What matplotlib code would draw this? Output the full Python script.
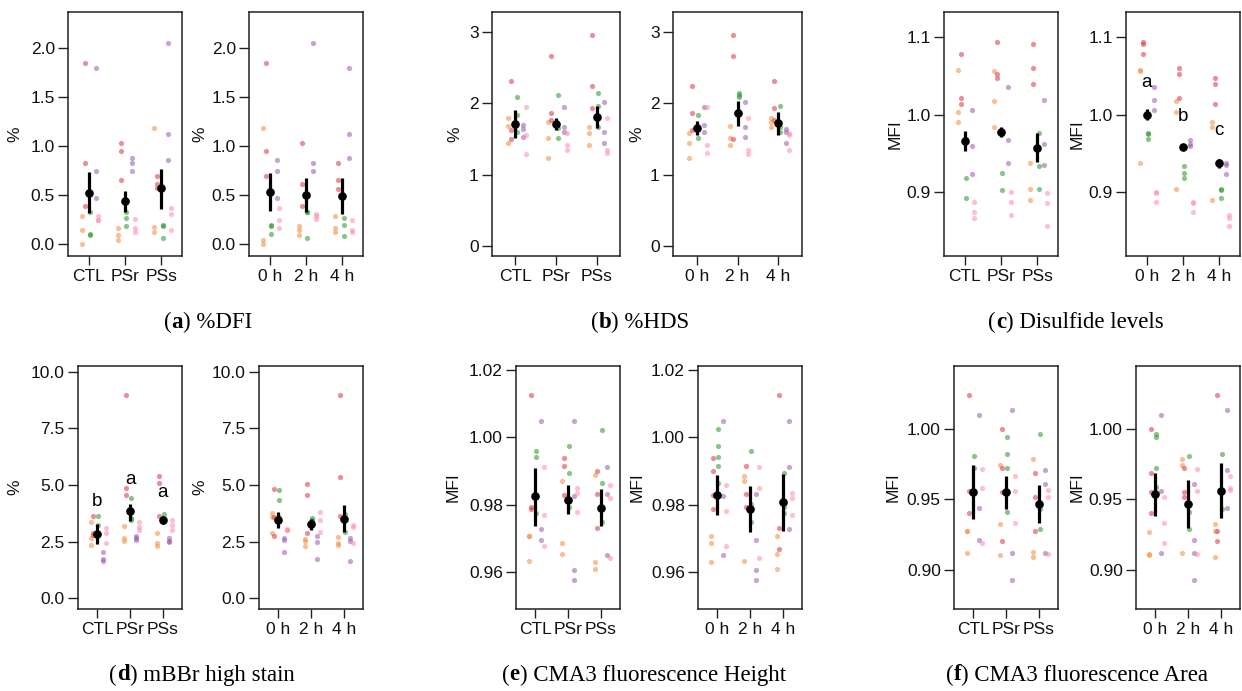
import matplotlib
matplotlib.use("Agg")
import matplotlib.pyplot as plt
from matplotlib.transforms import IdentityTransform

W, H = 1242, 691
DPI = 100

# colour per animal and its horizontal offset beside the group mean
colors = {
    "orange": (0.96, 0.55, 0.24),
    "red": (0.86, 0.20, 0.26),
    "green": (0.16, 0.59, 0.16),
    "purple": (0.59, 0.35, 0.67),
    "pink": (1.00, 0.55, 0.65),
}
offsets = {"orange": -0.19, "red": -0.115, "green": 0.04, "purple": 0.19, "pink": 0.265}

treat_labels = ["CTL", "PSr", "PSs"]
time_labels = ["0 h", "2 h", "4 h"]

# ---------------- (a) %DFI ----------------
dfi_treat = {
    "orange": [[0.29, 0.14, 0.00], [0.16, 0.09, 0.04], [1.18, 0.17, 0.12]],
    "red": [[1.85, 0.83, 0.39], [1.03, 0.95, 0.65], [0.69, 0.61, 0.57]],
    "green": [[0.33, 0.10, 0.09], [0.33, 0.27, 0.18], [0.19, 0.18, 0.06]],
    "purple": [[1.80, 0.74, 0.47], [0.88, 0.83, 0.74], [2.05, 1.12, 0.86]],
    "pink": [[0.29, 0.25, 0.25], [0.26, 0.16, 0.12], [0.37, 0.31, 0.14]],
}
dfi_treat_mean = [0.52, 0.44, 0.57]
dfi_treat_lo = [0.32, 0.33, 0.36]
dfi_treat_hi = [0.73, 0.54, 0.77]

dfi_time = {
    "orange": [[1.18, 0.04, 0.00], [0.18, 0.14, 0.09], [0.29, 0.16, 0.12]],
    "red": [[1.85, 0.95, 0.69], [1.03, 0.61, 0.39], [0.83, 0.65, 0.56]],
    "green": [[0.19, 0.18, 0.10], [0.33, 0.33, 0.06], [0.27, 0.19, 0.08]],
    "purple": [[0.86, 0.74, 0.47], [2.05, 0.83, 0.74], [1.80, 1.12, 0.88]],
    "pink": [[0.37, 0.25, 0.16], [0.31, 0.29, 0.26], [0.25, 0.14, 0.12]],
}
dfi_time_mean = [0.53, 0.50, 0.49]
dfi_time_lo = [0.34, 0.33, 0.31]
dfi_time_hi = [0.72, 0.67, 0.67]

# ---------------- (b) %HDS ----------------
hds_treat = {
    "orange": [[1.80, 1.69, 1.45], [1.74, 1.51, 1.23], [1.67, 1.59, 1.41]],
    "red": [[2.32, 1.62, 1.50], [2.67, 1.86, 1.77], [2.96, 2.25, 1.93]],
    "green": [[2.09, 1.84, 1.60], [2.12, 1.65, 1.52], [2.14, 1.96, 1.67]],
    "purple": [[1.70, 1.64, 1.53], [1.95, 1.67, 1.60], [2.02, 1.60, 1.45]],
    "pink": [[1.95, 1.55, 1.29], [1.59, 1.41, 1.35], [1.79, 1.35, 1.31]],
}
hds_treat_mean = [1.71, 1.71, 1.81]
hds_treat_lo = [1.51, 1.63, 1.66]
hds_treat_hi = [1.91, 1.79, 1.96]

hds_time = {
    "orange": [[1.59, 1.45, 1.23], [1.69, 1.51, 1.41], [1.80, 1.74, 1.67]],
    "red": [[2.25, 1.86, 1.62], [2.96, 2.67, 1.50], [2.32, 1.93, 1.77]],
    "green": [[1.84, 1.65, 1.52], [2.14, 2.12, 2.09], [1.96, 1.67, 1.60]],
    "purple": [[1.95, 1.70, 1.60], [2.02, 1.67, 1.53], [1.64, 1.60, 1.45]],
    "pink": [[1.95, 1.41, 1.31], [1.79, 1.35, 1.29], [1.59, 1.55, 1.35]],
}
hds_time_mean = [1.65, 1.86, 1.72]
hds_time_lo = [1.56, 1.68, 1.55]
hds_time_hi = [1.75, 2.04, 1.88]

# ---------------- (c) Disulfide levels ----------------
ss_treat = {
    "orange": [[1.058, 1.003, 0.990], [1.057, 1.017, 0.984], [0.937, 0.903, 0.889]],
    "red": [[1.079, 1.022, 1.014], [1.094, 1.052, 1.047], [1.091, 1.060, 1.039]],
    "green": [[0.968, 0.918, 0.892], [0.975, 0.924, 0.902], [0.976, 0.933, 0.904]],
    "purple": [[1.006, 0.959, 0.923], [1.035, 0.967, 0.937], [1.019, 0.962, 0.935]],
    "pink": [[0.887, 0.874, 0.866], [0.899, 0.887, 0.870], [0.898, 0.886, 0.855]],
}
ss_treat_mean = [0.966, 0.977, 0.957]
ss_treat_lo = [0.953, 0.971, 0.938]
ss_treat_hi = [0.979, 0.984, 0.976]

ss_time = {
    "orange": [[1.058, 1.057, 0.937], [1.017, 1.003, 0.903], [0.990, 0.984, 0.889]],
    "red": [[1.094, 1.091, 1.079], [1.060, 1.052, 1.022], [1.047, 1.039, 1.014]],
    "green": [[0.976, 0.975, 0.968], [0.933, 0.924, 0.918], [0.904, 0.902, 0.892]],
    "purple": [[1.035, 1.019, 1.006], [0.967, 0.962, 0.959], [0.937, 0.935, 0.923]],
    "pink": [[0.899, 0.898, 0.887], [0.887, 0.886, 0.874], [0.870, 0.866, 0.855]],
}
ss_time_mean = [1.000, 0.958, 0.937]
ss_time_lo = [0.993, 0.955, 0.931]
ss_time_hi = [1.007, 0.961, 0.943]
ss_time_letters = ["a", "b", "c"]
ss_time_letter_y = [1.041, 0.997, 0.979]

# ---------------- (d) mBBr high stain ----------------
mbbr_treat = {
    "orange": [[3.37, 2.65, 2.35], [3.20, 2.65, 2.55], [2.89, 2.43, 2.33]],
    "red": [[3.65, 2.89, 2.79], [8.97, 4.87, 4.58], [5.38, 5.07, 3.62]],
    "green": [[3.65, 3.25, 2.89], [4.42, 3.55, 3.45], [3.74, 3.47, 3.40]],
    "purple": [[2.06, 1.74, 1.66], [2.75, 2.65, 2.57], [2.67, 2.55, 2.50]],
    "pink": [[3.12, 2.89, 2.46], [3.39, 3.15, 3.01], [3.47, 3.23, 3.01]],
}
mbbr_treat_mean = [2.83, 3.84, 3.47]
mbbr_treat_lo = [2.40, 3.42, 3.30]
mbbr_treat_hi = [3.27, 4.17, 3.65]
mbbr_treat_letters = ["b", "a", "a"]
mbbr_treat_letter_y = [4.28, 5.24, 4.67]

mbbr_time = {
    "orange": [[3.78, 3.59, 2.89], [2.62, 2.55, 2.31], [2.70, 2.43, 2.35]],
    "red": [[4.84, 3.59, 2.75], [5.04, 4.58, 2.89], [8.97, 5.36, 3.65]],
    "green": [[4.77, 4.36, 3.59], [3.56, 3.47, 3.40], [3.70, 3.52, 2.92]],
    "purple": [[2.67, 2.57, 2.06], [2.75, 2.47, 1.74], [2.65, 2.55, 1.66]],
    "pink": [[3.08, 3.01, 3.01], [3.81, 3.44, 2.94], [3.23, 3.15, 2.43]],
}
mbbr_time_mean = [3.47, 3.26, 3.50]
mbbr_time_lo = [3.10, 3.00, 2.92]
mbbr_time_hi = [3.80, 3.50, 4.10]

# ---------------- (e) CMA3 fluorescence Height ----------------
cmah_treat = {
    "orange": [[0.9709, 0.9709, 0.9632], [0.9871, 0.9688, 0.9654], [0.9889, 0.9629, 0.9610]],
    "red": [[1.0126, 0.9793, 0.9788], [0.9938, 0.9915, 0.9828], [0.9899, 0.9832, 0.9731]],
    "green": [[0.9961, 0.9941, 0.9775], [0.9975, 0.9894, 0.9795], [1.0022, 0.9866, 0.9749]],
    "purple": [[1.0048, 0.9728, 0.9696], [1.0050, 0.9825, 0.9606, 0.9578], [0.9911, 0.9832, 0.9650]],
    "pink": [[0.9913, 0.9770, 0.9677], [0.9849, 0.9835, 0.9780], [0.9859, 0.9820, 0.9642]],
}
cmah_treat_mean = [0.9825, 0.9815, 0.9792]
cmah_treat_lo = [0.9736, 0.9772, 0.9736]
cmah_treat_hi = [0.9909, 0.9859, 0.9847]

cmah_time = {
    "orange": [[0.9709, 0.9688, 0.9629], [0.9886, 0.9871, 0.9632], [0.9709, 0.9654, 0.9610]],
    "red": [[0.9938, 0.9899, 0.9828, 0.9788], [0.9915, 0.9832, 0.9793], [1.0126, 0.9731, 0.9669]],
    "green": [[1.0024, 0.9975, 0.9941, 0.9915, 0.9866], [0.9961, 0.9803, 0.9749], [0.9894, 0.9795, 0.9775]],
    "purple": [[1.0048, 0.9825, 0.9650], [0.9832, 0.9696, 0.9606, 0.9578], [1.0050, 0.9911, 0.9728]],
    "pink": [[0.9859, 0.9782, 0.9677], [0.9913, 0.9849, 0.9642], [0.9835, 0.9820, 0.9770]],
}
cmah_time_mean = [0.9830, 0.9787, 0.9808]
cmah_time_lo = [0.9770, 0.9719, 0.9723]
cmah_time_hi = [0.9889, 0.9856, 0.9892]

# ---------------- (f) CMA3 fluorescence Area ----------------
cmaa_treat = {
    "orange": [[0.9275, 0.9275, 0.9122], [0.9743, 0.9325, 0.9105], [0.9784, 0.9124, 0.9093]],
    "red": [[1.0240, 0.9560, 0.9405], [0.9999, 0.9720, 0.9554, 0.9204], [0.9685, 0.9520, 0.9275]],
    "green": [[0.9807, 0.9720, 0.9560], [0.9944, 0.9826, 0.9720, 0.9413], [0.9963, 0.9436, 0.9290]],
    "purple": [[1.0098, 0.9443, 0.9216], [1.0134, 0.9117, 0.8928], [0.9710, 0.9610, 0.9120]],
    "pink": [[0.9713, 0.9583, 0.9193], [0.9665, 0.9560, 0.9335], [0.9566, 0.9520, 0.9110]],
}
cmaa_treat_mean = [0.9554, 0.9550, 0.9467]
cmaa_treat_lo = [0.9358, 0.9430, 0.9330]
cmaa_treat_hi = [0.9748, 0.9665, 0.9600]

cmaa_time = {
    "orange": [[0.9270, 0.9110, 0.9105], [0.9784, 0.9743, 0.9122], [0.9325, 0.9275, 0.9089]],
    "red": [[0.9999, 0.9685, 0.9554, 0.9405], [0.9720, 0.9554, 0.9520], [1.0240, 0.9275, 0.9204]],
    "green": [[0.9963, 0.9944, 0.9720, 0.9590], [0.9807, 0.9413, 0.9290], [0.9826, 0.9436]],
    "purple": [[1.0098, 0.9560, 0.9120], [0.9610, 0.9216, 0.9117, 0.8928], [1.0134, 0.9710, 0.9443]],
    "pink": [[0.9520, 0.9335, 0.9193], [0.9713, 0.9560, 0.9110], [0.9665, 0.9566, 0.9583]],
}
cmaa_time_mean = [0.9538, 0.9467, 0.9561]
cmaa_time_lo = [0.9384, 0.9300, 0.9370]
cmaa_time_hi = [0.9690, 0.9637, 0.9760]

# ---------------------------------------------------------------
SANS = ["Liberation Sans", "DejaVu Sans"]
SERIF = ["Liberation Serif", "DejaVu Serif"]
plt.rcParams["font.family"] = SANS

fig = plt.figure(figsize=(W / DPI, H / DPI), dpi=DPI)
fig.patch.set_facecolor("white")

TICK_SIZE = 12.5


def panel(box, data, mean, lo, hi, ylim, yticks, ytick_fmt, xlabels,
          ylabel, ylabel_x, letters=None, letter_y=None):
    left, top, right, bottom = box
    ax = fig.add_axes([left / W, 1 - bottom / H, (right - left) / W, (bottom - top) / H])
    for name, groups in data.items():
        for g, vals in enumerate(groups):
            ax.scatter([g + offsets[name]] * len(vals), vals, s=14,
                       color=colors[name], alpha=0.55, linewidths=0, zorder=2)
    xs = list(range(len(mean)))
    ax.vlines(xs, lo, hi, color="black", lw=2.3, zorder=3)
    ax.plot(xs, mean, "o", color="black", ms=5.2, zorder=4)
    if letters:
        for x, s, y in zip(xs, letters, letter_y):
            ax.text(x, y, s, ha="center", va="center", fontsize=13.5, zorder=5)
    ax.set_xlim(-0.58, 2.58)
    ax.set_ylim(*ylim)
    ax.set_xticks(xs)
    ax.set_xticklabels(xlabels)
    ax.set_yticks(yticks)
    ax.set_yticklabels([ytick_fmt.format(v) for v in yticks])
    ax.tick_params(direction="out", width=1.0, labelsize=TICK_SIZE,
                   color="#222222", labelcolor="#111111")
    ax.tick_params(axis="y", length=7.5, pad=2)
    ax.tick_params(axis="x", length=6.5, pad=3)
    for sp in ax.spines.values():
        sp.set_linewidth(1.1)
        sp.set_color("#222222")
    fig.text(ylabel_x / W, 1 - (top + bottom) / 2 / H, ylabel, rotation=90,
             ha="center", va="center", fontsize=TICK_SIZE, color="#111111")
    return ax


panel((68, 12, 182, 256), dfi_treat, dfi_treat_mean, dfi_treat_lo, dfi_treat_hi,
      (-0.122, 2.367), [0.0, 0.5, 1.0, 1.5, 2.0], "{:.1f}", treat_labels, "%", 15)
panel((249, 12, 363, 256), dfi_time, dfi_time_mean, dfi_time_lo, dfi_time_hi,
      (-0.122, 2.367), [0.0, 0.5, 1.0, 1.5, 2.0], "{:.1f}", time_labels, "%", 200)

panel((492, 12, 620, 256), hds_treat, hds_treat_mean, hds_treat_lo, hds_treat_hi,
      (-0.145, 3.286), [0, 1, 2, 3], "{:.0f}", treat_labels, "%", 455)
panel((673, 12, 802, 256), hds_time, hds_time_mean, hds_time_lo, hds_time_hi,
      (-0.145, 3.286), [0, 1, 2, 3], "{:.0f}", time_labels, "%", 637)

panel((944, 12, 1058, 256), ss_treat, ss_treat_mean, ss_treat_lo, ss_treat_hi,
      (0.8167, 1.1328), [0.9, 1.0, 1.1], "{:.1f}", treat_labels, "MFI", 895)
panel((1126, 12, 1240, 256), ss_time, ss_time_mean, ss_time_lo, ss_time_hi,
      (0.8167, 1.1328), [0.9, 1.0, 1.1], "{:.1f}", time_labels, "MFI", 1077,
      ss_time_letters, ss_time_letter_y)

panel((78, 366, 182, 609), mbbr_treat, mbbr_treat_mean, mbbr_treat_lo, mbbr_treat_hi,
      (-0.47, 10.25), [0.0, 2.5, 5.0, 7.5, 10.0], "{:.1f}", treat_labels, "%", 15,
      mbbr_treat_letters, mbbr_treat_letter_y)
panel((259, 366, 363, 609), mbbr_time, mbbr_time_mean, mbbr_time_lo, mbbr_time_hi,
      (-0.47, 10.25), [0.0, 2.5, 5.0, 7.5, 10.0], "{:.1f}", time_labels, "%", 200)

panel((516, 366, 620, 609), cmah_treat, cmah_treat_mean, cmah_treat_lo, cmah_treat_hi,
      (0.9491, 1.0212), [0.96, 0.98, 1.00, 1.02], "{:.2f}", treat_labels, "MFI", 453)
panel((698, 366, 802, 609), cmah_time, cmah_time_mean, cmah_time_lo, cmah_time_hi,
      (0.9491, 1.0212), [0.96, 0.98, 1.00, 1.02], "{:.2f}", time_labels, "MFI", 637)

panel((954, 366, 1058, 609), cmaa_treat, cmaa_treat_mean, cmaa_treat_lo, cmaa_treat_hi,
      (0.8723, 1.0447), [0.90, 0.95, 1.00], "{:.2f}", treat_labels, "MFI", 893)
panel((1136, 366, 1240, 609), cmaa_time, cmaa_time_mean, cmaa_time_lo, cmaa_time_hi,
      (0.8723, 1.0447), [0.90, 0.95, 1.00], "{:.2f}", time_labels, "MFI", 1077)

# sub-figure captions with a bold letter, centred at the given pixel position
renderer = fig.canvas.get_renderer()


def caption(cx, cy, letter, rest, size=16.5):
    parts = [("(", "normal"), (letter, "bold"), (") " + rest, "normal")]
    texts = []
    for s, w in parts:
        t = fig.text(0, 0, s, fontsize=size, fontweight=w, family=SERIF,
                     transform=IdentityTransform(), va="center", ha="left")
        texts.append(t)
    widths = [t.get_window_extent(renderer).width for t in texts]
    x = cx - sum(widths) / 2
    for t, w in zip(texts, widths):
        t.set_position((x, H - cy))
        x += w


caption(208, 322, "a", "%DFI")
caption(640, 322, "b", "%HDS")
caption(1076, 322, "c", "Disulfide levels")
caption(202, 675, "d", "mBBr high stain")
caption(644, 675, "e", "CMA3 fluorescence Height")
caption(1077, 675, "f", "CMA3 fluorescence Area")

fig.savefig("out.png", dpi=DPI)
